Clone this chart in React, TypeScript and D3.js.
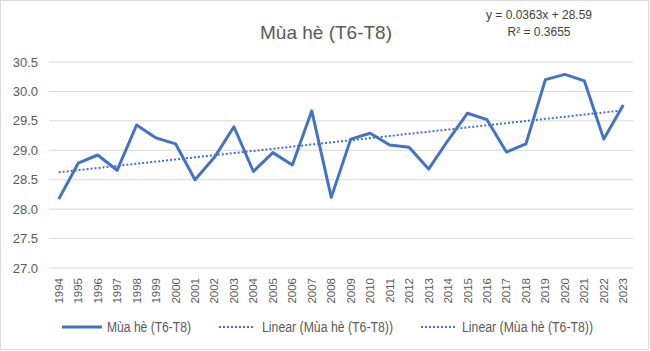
import React, { useRef, useEffect } from 'react';
import * as d3 from 'd3';

// data
const years = d3.range(1994, 2024).map(String);
const summerTemp = [
  28.17, 28.78, 28.92, 28.66, 29.43, 29.21, 29.11, 28.5, 28.88, 29.4,
  28.64, 28.96, 28.75, 29.67, 28.2, 29.19, 29.29, 29.09, 29.05, 28.68,
  29.17, 29.63, 29.52, 28.97, 29.11, 30.2, 30.29, 30.18, 29.19, 29.77,
];
const yTicks = [27.0, 27.5, 28.0, 28.5, 29.0, 29.5, 30.0, 30.5];
const trendSlope = 0.0363;
const trendIntercept = 28.59;
const seriesName = 'Mùa hè (T6-T8)';
const trendName = 'Linear (Mùa hè (T6-T8))';

const W = 650, H = 351;
const blue = '#4472C4';
const grey = '#595959';
const font = '"Liberation Sans Narrow", "Liberation Sans", sans-serif';

const App = () => {
  const ref = useRef<SVGSVGElement>(null);

  useEffect(() => {
    const svg = d3.select(ref.current);
    svg.selectAll('*').remove();

    const margin = { top: 62, right: 17, bottom: 83, left: 49 };
    const width = W - margin.left - margin.right;
    const height = H - margin.top - margin.bottom;

    svg.append('rect')
      .attr('x', 0.5).attr('y', 0.5)
      .attr('width', W - 2).attr('height', H - 2)
      .attr('fill', 'white').attr('stroke', '#d9d9d9');

    const g = svg.append('g').attr('transform', `translate(${margin.left},${margin.top})`);

    const x = d3.scaleBand().domain(years).range([0, width]);
    const y = d3.scaleLinear().domain([27, 30.5]).range([height, 0]);
    const cx = (d: string) => (x(d) ?? 0) + x.bandwidth() / 2;

    // gridlines
    g.append('g')
      .selectAll('line')
      .data(yTicks)
      .join('line')
      .attr('x1', 0).attr('x2', width)
      .attr('y1', d => y(d)).attr('y2', d => y(d))
      .attr('stroke', '#d9d9d9').attr('stroke-width', 1);

    // y labels
    g.append('g')
      .selectAll('text')
      .data(yTicks)
      .join('text')
      .attr('x', -11).attr('y', d => y(d))
      .attr('dy', '0.35em')
      .attr('text-anchor', 'end')
      .attr('fill', grey)
      .style('font-family', font)
      .style('font-size', '13px')
      .text(d => d.toFixed(1));

    // x labels
    g.append('g')
      .selectAll('text')
      .data(years)
      .join('text')
      .attr('transform', d => `translate(${cx(d)},${height + 10}) rotate(-90)`)
      .attr('dy', '0.35em')
      .attr('text-anchor', 'end')
      .attr('fill', grey)
      .style('font-family', '"Liberation Sans", sans-serif')
      .style('font-size', '11.5px')
      .text(d => d);

    // trendline
    const trend = years.map((d, i) => ({ year: d, v: trendIntercept + trendSlope * (i + 1) }));
    g.append('path')
      .datum(trend)
      .attr('fill', 'none')
      .attr('stroke', blue)
      .attr('stroke-width', 2)
      .attr('stroke-dasharray', '2,2')
      .attr('d', d3.line<{ year: string; v: number }>().x(d => cx(d.year)).y(d => y(d.v)));

    // data line
    g.append('path')
      .datum(summerTemp)
      .attr('fill', 'none')
      .attr('stroke', blue)
      .attr('stroke-width', 3)
      .attr('stroke-linejoin', 'round')
      .attr('d', d3.line<number>().x((d, i) => cx(years[i])).y(d => y(d)));

    // title
    svg.append('text')
      .attr('x', 326).attr('y', 39)
      .attr('text-anchor', 'middle')
      .attr('fill', grey)
      .style('font-family', font)
      .style('font-size', '19px')
      .text(seriesName);

    // equation
    svg.append('text')
      .attr('x', 539).attr('y', 19)
      .attr('text-anchor', 'middle')
      .attr('fill', '#404040')
      .style('font-family', font)
      .style('font-size', '12px')
      .text(`y = ${trendSlope}x + ${trendIntercept}`);
    svg.append('text')
      .attr('x', 539).attr('y', 36)
      .attr('text-anchor', 'middle')
      .attr('fill', '#404040')
      .style('font-family', font)
      .style('font-size', '12px')
      .text('R² = 0.3655');

    // legend
    const legendY = 327;
    const items = [
      { x: 62, w: 40, dash: null, sw: 3, label: seriesName, tx: 107, tw: 84 },
      { x: 219, w: 35, dash: '2,2', sw: 2, label: trendName, tx: 262, tw: 131 },
      { x: 421, w: 35, dash: '2,2', sw: 2, label: trendName, tx: 462, tw: 131 },
    ];
    const lg = svg.append('g');
    items.forEach(it => {
      const ln = lg.append('line')
        .attr('x1', it.x).attr('x2', it.x + it.w)
        .attr('y1', legendY).attr('y2', legendY)
        .attr('stroke', blue).attr('stroke-width', it.sw);
      if (it.dash) ln.attr('stroke-dasharray', it.dash);
      lg.append('text')
        .attr('x', it.tx).attr('y', legendY)
        .attr('dy', '0.35em')
        .attr('fill', grey)
        .attr('textLength', it.tw)
        .attr('lengthAdjust', 'spacingAndGlyphs')
        .style('font-family', font)
        .style('font-size', '14px')
        .text(it.label);
    });
  }, []);

  return <svg ref={ref} width={W} height={H} style={{ display: 'block', position: 'absolute', left: 0, top: 0 }} />;
};

export default App;
